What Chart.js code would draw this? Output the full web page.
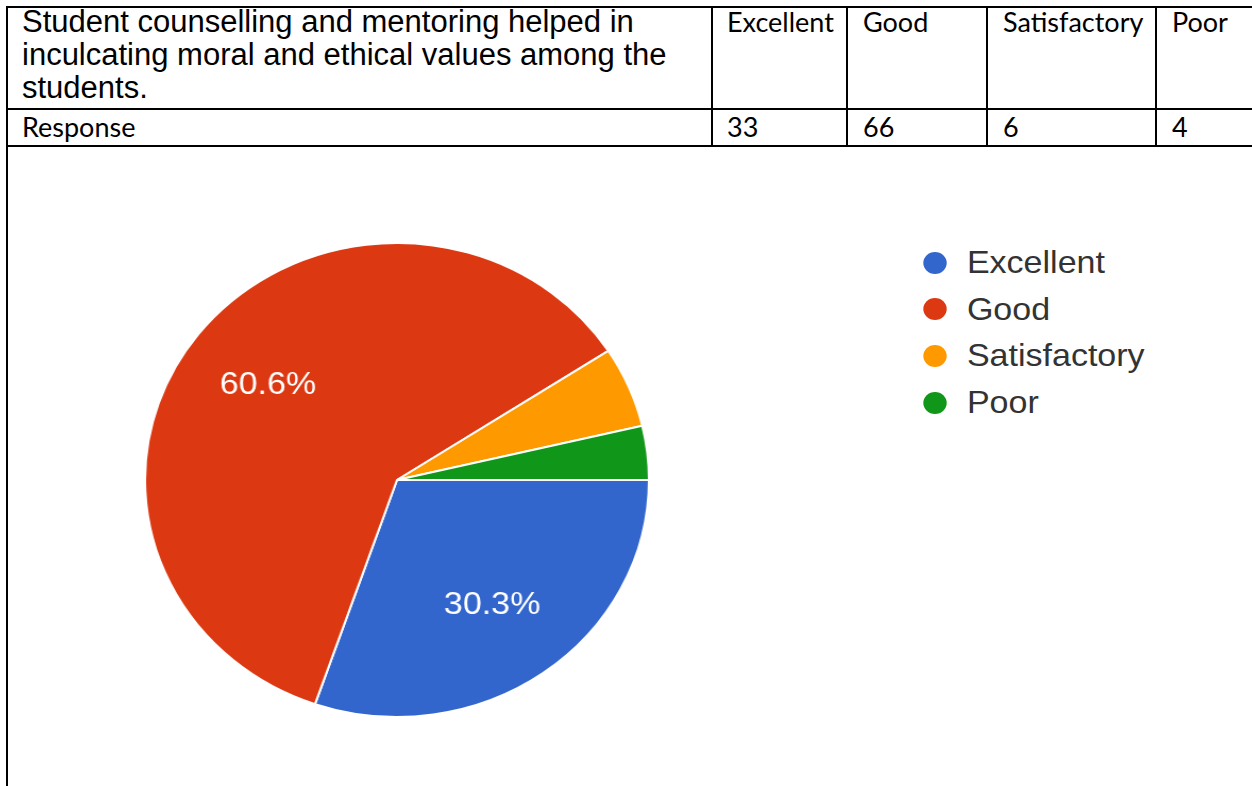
<!DOCTYPE html>
<html>
<head>
<meta charset="utf-8">
<script src="https://cdn.jsdelivr.net/npm/chart.js@4.4.0/dist/chart.umd.min.js"></script>
<style>
  body { margin: 0; background: #fff; width: 1252px; height: 786px; overflow: hidden; position: relative; }
  .ln { position: absolute; background: #000; }
  .t { position: absolute; white-space: nowrap; color: #000; }
  .arial { font-family: "Liberation Sans", Arial, sans-serif; font-size: 31px; line-height: 33px; }
  .cal { font-family: Lato, "Open Sans", sans-serif; font-size: 27px; line-height: 30px; }
  /* the source picture is a little stretched sideways, so is the chart */
  #pieBox { position: absolute; left: 157px; top: 240px; width: 480px; height: 480px; transform: scaleX(1.063); transform-origin: 50% 50%; }
  #legend { position: absolute; left: 918px; top: 239px; font-family: "Liberation Sans", Arial, sans-serif; font-size: 32px; color: #333; transform: scaleX(1.063); transform-origin: 0 0; }
  #legend div { height: 46.7px; line-height: 46.7px; position: relative; padding-left: 46px; }
  #legend span.dot { position: absolute; left: 5px; top: 12.5px; width: 22px; height: 22px; border-radius: 50%; }
</style>
</head>
<body>
<!-- table lines -->
<div class="ln" style="left:6px;top:6px;width:1246px;height:2px"></div>
<div class="ln" style="left:6px;top:108px;width:1246px;height:2px"></div>
<div class="ln" style="left:6px;top:145px;width:1246px;height:2px"></div>
<div class="ln" style="left:6px;top:6px;width:2px;height:780px"></div>
<div class="ln" style="left:711px;top:6px;width:2px;height:141px"></div>
<div class="ln" style="left:846px;top:6px;width:2px;height:141px"></div>
<div class="ln" style="left:986px;top:6px;width:2px;height:141px"></div>
<div class="ln" style="left:1155px;top:6px;width:2px;height:141px"></div>

<div class="t arial" style="left:22px;top:5px">Student counselling and mentoring helped in<br>inculcating moral and ethical values among the<br>students.</div>
<div class="t cal" style="left:22px;top:112px">Response</div>
<div id="hdr"></div>
<div id="pieBox"><canvas id="pie" width="480" height="480"></canvas></div>
<div id="legend"></div>

<script>
const labels = ["Excellent", "Good", "Satisfactory", "Poor"];
const responses = [33, 66, 6, 4];
const colors = ["#3366cc", "#dc3912", "#ff9900", "#109618"];
const colX = [727, 863, 1003, 1172];

// header + response cells
const hdr = document.getElementById("hdr");
labels.forEach(function (l, i) {
  let a = document.createElement("div");
  a.className = "t cal";
  a.style.left = colX[i] + "px";
  a.style.top = "7px";
  a.textContent = l;
  hdr.appendChild(a);
  let b = document.createElement("div");
  b.className = "t cal";
  b.style.left = colX[i] + "px";
  b.style.top = "112px";
  b.textContent = responses[i];
  hdr.appendChild(b);
});

// legend
const lg = document.getElementById("legend");
labels.forEach(function (l, i) {
  let d = document.createElement("div");
  let s = document.createElement("span");
  s.className = "dot";
  s.style.background = colors[i];
  d.appendChild(s);
  d.append(l);
  lg.appendChild(d);
});

const total = responses.reduce((a, b) => a + b, 0);
const pctLabels = {
  id: "pctLabels",
  afterDatasetsDraw(chart) {
    const ctx = chart.ctx;
    chart.getDatasetMeta(0).data.forEach(function (arc, i) {
      const pct = responses[i] / total * 100;
      if (pct < 10) return;
      const mid = (arc.startAngle + arc.endAngle) / 2;
      const r = arc.outerRadius * 0.65;
      ctx.save();
      ctx.fillStyle = "#fff";
      ctx.font = "32px 'Liberation Sans', Arial, sans-serif";
      ctx.textAlign = "center";
      ctx.textBaseline = "middle";
      ctx.fillText(pct.toFixed(1) + "%", arc.x + Math.cos(mid) * r, arc.y + Math.sin(mid) * r);
      ctx.restore();
    });
  },
};

new Chart(document.getElementById("pie"), {
  type: "pie",
  data: {
    labels: labels,
    datasets: [{
      data: responses,
      backgroundColor: colors,
      borderColor: "#fff",
      borderWidth: 2,
    }],
  },
  options: {
    responsive: false,
    animation: false,
    rotation: 90,
    radius: 237,
    plugins: {
      legend: { display: false },
      tooltip: { enabled: false },
    },
  },
  plugins: [pctLabels],
});
</script>
</body>
</html>
